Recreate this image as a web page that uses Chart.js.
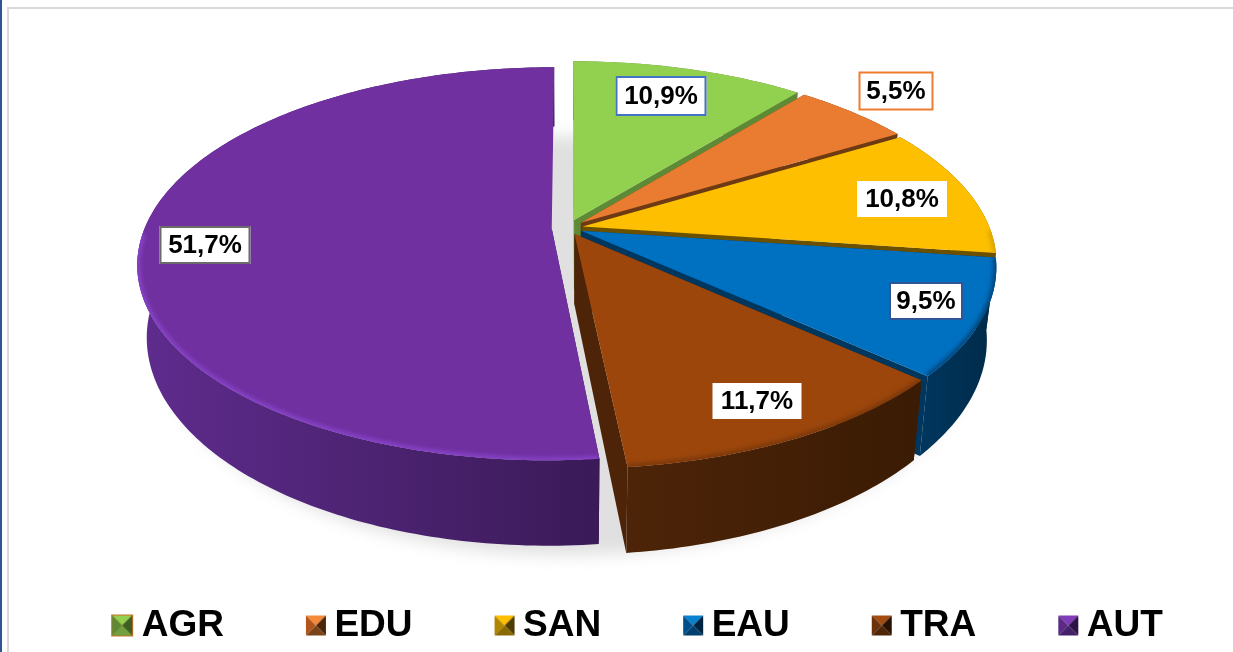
<!DOCTYPE html>
<html><head><meta charset="utf-8">
<style>html,body{margin:0;padding:0;background:#fff;overflow:hidden}canvas{display:block}</style>
<script src="https://cdn.jsdelivr.net/npm/chart.js@4"></script>
</head><body><canvas id="c" width="1233" height="652"></canvas>
<script>
const categories = ['AGR','EDU','SAN','EAU','TRA','AUT'];
const shares = [10.9,5.5,10.8,9.5,11.7,51.7];

const faceColors = ['#92d050','#e97c30','#fdbf00','#0070c0','#9c460c','#7030a0'];
const sideColors = [['#5f8a35','#5f8a35'],['#6e3a14','#6e3a14'],['#6b5000','#6b5000'],['#00375f','#002a48'],['#4d2408','#3a1b04'],['#5f2c8e','#3a1a57']];
const rimColors = [null,null,'#d9a300','#00447a','#7a380a','#8743c8'];
const explode = [0.045,0.042,0.037,0.035,0.035,0.04];
const drawOrder = [0,1,2,3,5,4];
const labelCenters = [[661,96],[896,91],[902,199],[926,301],[757,401],[205,245]];
const labelBoxes = [[91,40],[75,39],[90,36],[74,38],[89,36],[91,38]];
const labelBorders = ['#4472c4','#ed7d31',null,'#2f5597',null,'#6b6b6b'];
const markerColors = [['#92d050','#5f8a35','#3f5f22','#6f9f3f'],['#f58a3a','#b0561c','#4a2508','#7a4418'],['#fdbf00','#b08500','#4f3c00','#8a6a00'],['#0a80d0','#004f8a','#00233f','#003f6e'],['#a34c10','#6a300a','#2a1203','#4f2407'],['#7f3bb8','#5a2a85','#2e1446','#43206a']];

const CX=568, CY=228, RX=407, RY=190, K=0.18, DEPTH=70, SHRINK=0.022;
const BOX=50;
function proj(u,v,low){
  const w=1-K*v;
  let x=CX+RX*u/w, y=CY+RY*v/w;
  if(low){x=CX+(x-CX)*(1-SHRINK); y+=DEPTH/w;}
  return [x,y];
}
function tracePts(ctx,pts,cont){pts.forEach((p,i)=>(i||cont)?ctx.lineTo(p[0],p[1]):ctx.moveTo(p[0],p[1]));}

function markerCanvas(i){
  const W=BOX+22;
  const c=document.createElement('canvas');c.width=W;c.height=24;
  const g=c.getContext('2d');const L=i===0?W-23:W-21,R=W-1,T=i===0?1:2,B=i===0?23:22,mx=(L+R)/2,my=(T+B)/2;
  const [top,left,right,bottom]=markerColors[i];
  if(i===0){g.fillStyle='#c8702a';g.fillRect(L,T,R-L,B-T);}
  const ins=i===0?1:0;
  const a=[L+ins,T+ins],b=[R-ins,T+ins],d=[R-ins,B-ins],e=[L+ins,B-ins],m=[mx,my];
  [[a,b,top],[a,e,left],[b,d,right],[e,d,bottom]].forEach(([p,q,col])=>{g.fillStyle=col;g.beginPath();g.moveTo(...p);g.lineTo(...q);g.lineTo(...m);g.closePath();g.fill();});
  return c;
}

const pie3d={
  id:'pie3d',
  beforeDraw(chart){
    const ctx=chart.ctx;ctx.save();
    ctx.fillStyle='#fff';ctx.fillRect(0,0,1233,652);
    ctx.fillStyle='#2f5597';ctx.fillRect(0,0,2,652);
    ctx.fillStyle='#d9d9d9';ctx.fillRect(7,7,1226,2);ctx.fillRect(7,7,2,645);
    ctx.restore();
  },
  beforeDatasetDraw(chart){
    const ctx=chart.ctx, arcs=chart.getDatasetMeta(0).data;
    ctx.save();
    const ring=[];for(let t=0;t<360;t+=2){const a=t*Math.PI/180;ring.push(proj(Math.cos(a),Math.sin(a),true));}
    ctx.filter='blur(8px)';ctx.fillStyle='#e0e0e0';ctx.save();ctx.translate(0,10);ctx.beginPath();tracePts(ctx,ring);ctx.closePath();ctx.fill();ctx.restore();ctx.filter='none';
    drawOrder.forEach(i=>{
      const {startAngle:s,endAngle:e}=arcs[i].getProps(['startAngle','endAngle'],true);
      const mid=(s+e)/2, ou=Math.cos(mid)*explode[i], ov=Math.sin(mid)*explode[i];
      const n=Math.max(8,Math.ceil((e-s)*60));
      const top=[],low=[];
      for(let j=0;j<=n;j++){const a=s+(e-s)*j/n,u=Math.cos(a)+ou,v=Math.sin(a)+ov;top.push(proj(u,v,false));low.push(proj(u,v,true));}
      const at=proj(ou,ov,false),al=proj(ou,ov,true);
      const xs=top.concat(low).map(p=>p[0]),x0=Math.min(...xs),x1=Math.max(...xs);
      const gr=ctx.createLinearGradient(x0,0,x1,0);gr.addColorStop(0,sideColors[i][0]);gr.addColorStop(1,sideColors[i][1]);
      ctx.fillStyle=gr;
      const quads=[[at,top[0],low[0],al]];
      if(i!==5) quads.push([at,top[n],low[n],al]);
      quads.forEach(q=>{ctx.beginPath();tracePts(ctx,q);ctx.closePath();ctx.fill();});
      ctx.beginPath();tracePts(ctx,top);tracePts(ctx,low.slice().reverse(),true);ctx.closePath();ctx.fill();
      const face=[at].concat(top);
      ctx.fillStyle=faceColors[i];ctx.beginPath();tracePts(ctx,face);ctx.closePath();ctx.fill();
      if(rimColors[i]){
        ctx.save();ctx.beginPath();tracePts(ctx,face);ctx.closePath();ctx.clip();
        ctx.filter='blur(2px)';ctx.strokeStyle=rimColors[i];ctx.lineWidth=6;ctx.beginPath();
        let on=false;
        for(let j=0;j<=n;j++){const a=s+(e-s)*j/n;if(Math.sin(a)>0.02){on?ctx.lineTo(...top[j]):ctx.moveTo(...top[j]);on=true;}else on=false;}
        ctx.stroke();ctx.restore();ctx.filter='none';
      }
    });
    ctx.font='bold 26px "Liberation Sans"';ctx.textAlign='center';ctx.textBaseline='middle';
    shares.forEach((val,i)=>{
      const [x,y]=labelCenters[i],[w,h]=labelBoxes[i];
      ctx.fillStyle='#fff';ctx.fillRect(x-w/2,y-h/2,w,h);
      if(labelBorders[i]){ctx.strokeStyle=labelBorders[i];ctx.lineWidth=2;ctx.strokeRect(x-w/2+1,y-h/2+1,w-2,h-2);}
      ctx.fillStyle='#000';ctx.fillText(val.toFixed(1).replace('.',',')+'%',x,y+1);
    });
    ctx.restore();
    return false;
  }
};

new Chart(document.getElementById('c'),{
  type:'pie',
  data:{labels:categories,datasets:[{data:shares,backgroundColor:faceColors,borderWidth:0}]},
  options:{
    responsive:false,animation:false,
    layout:{padding:{left:3,bottom:-2,top:0,right:0}},
    plugins:{
      tooltip:{enabled:false},
      legend:{display:true,position:'bottom',onClick:null,
        labels:{usePointStyle:true,pointStyleWidth:BOX,padding:42,color:'#000',
          font:{family:'"Liberation Sans"',size:37,weight:'bold'},
          generateLabels:()=>categories.map((t,i)=>({text:t,pointStyle:markerCanvas(i),fontColor:'#000',hidden:false,lineWidth:0,datasetIndex:0,index:i}))
        }
      }
    }
  },
  plugins:[pie3d]
});
</script></body></html>
